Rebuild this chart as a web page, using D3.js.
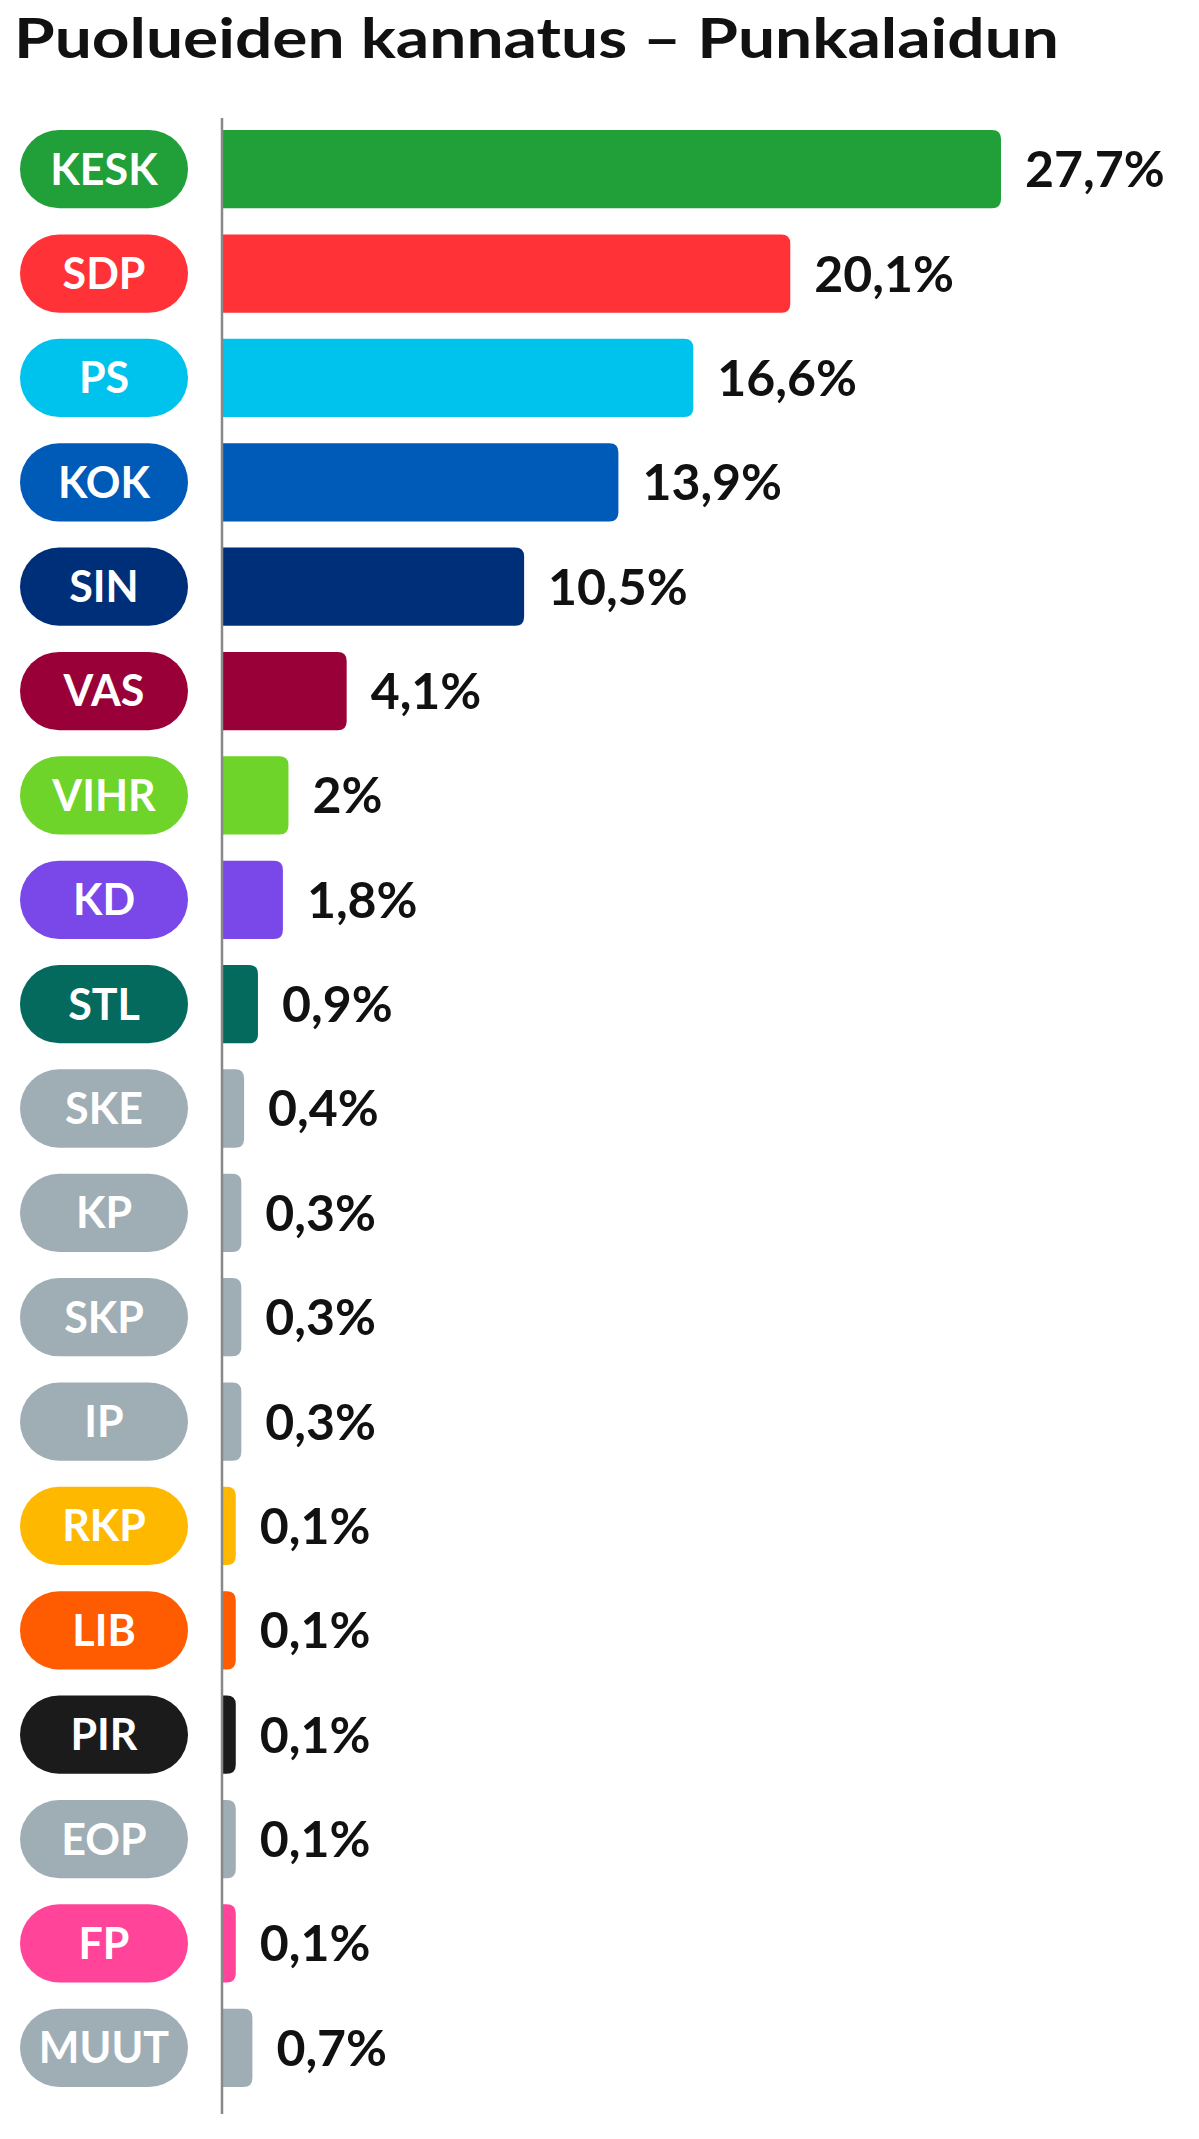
<!DOCTYPE html>
<html><head><meta charset="utf-8">
<script src="https://cdn.jsdelivr.net/npm/d3@7"></script>
<style>body{margin:0;background:#fff}</style></head>
<body><svg id="c" width="1199" height="2139"></svg>
<script>
const parties = ["KESK","SDP","PS","KOK","SIN","VAS","VIHR","KD","STL","SKE","KP","SKP","IP","RKP","LIB","PIR","EOP","FP","MUUT"];
const values = [27.7,20.1,16.6,13.9,10.5,4.1,2,1.8,0.9,0.4,0.3,0.3,0.3,0.1,0.1,0.1,0.1,0.1,0.7];
const colors = ["#21a03a","#ff3337","#00c3ed","#005ab7","#002f7a","#990038","#6ed42a","#7a48e8","#056a5e","#9fadb5","#9fadb5","#9fadb5","#9fadb5","#ffb800","#ff5b00","#1b1b1b","#9fadb5","#ff4499","#9fadb5"];
const labels = ["27,7%","20,1%","16,6%","13,9%","10,5%","4,1%","2%","1,8%","0,9%","0,4%","0,3%","0,3%","0,3%","0,1%","0,1%","0,1%","0,1%","0,1%","0,7%"];
const title = "Puolueiden kannatus – Punkalaidun";

const svg = d3.select("#c");
const font = "Lato, 'Open Sans', sans-serif";
svg.append("text").attr("x",14).attr("y",58).attr("font-family",font).attr("font-weight",700)
  .attr("font-size",56).attr("fill","#111").attr("textLength",1045).attr("lengthAdjust","spacingAndGlyphs").text(title);

const axisX = 222, minW = 11;
const y = d3.scaleBand().domain(parties).range([117, 2100]).paddingInner(0.25).paddingOuter(0.125);
const x = d3.scaleLinear().domain([0, 27.7]).range([0, 768]);
const g = svg.append("g");
const rows = g.selectAll("g").data(parties).join("g")
  .attr("transform", d => `translate(0,${y(d)})`);
const bw = y.bandwidth();
rows.append("path").attr("fill",(d,i)=>colors[i]).attr("d",(d,i)=>{
  const w = minW + x(values[i]); const r = Math.min(9, w);
  return `M${axisX},0 H${axisX+w-r} Q${axisX+w},0 ${axisX+w},${r} V${bw-r} Q${axisX+w},${bw} ${axisX+w-r},${bw} H${axisX} Z`;
});
rows.append("rect").attr("x",20).attr("width",168).attr("height",bw).attr("rx",bw/2)
  .attr("fill",(d,i)=>colors[i]);
rows.append("text").attr("x",104).attr("y",bw/2).attr("dy","0.36em").attr("text-anchor","middle")
  .attr("font-family",font).attr("font-weight",700).attr("font-size",43).attr("fill","#fff").text(d=>d);
rows.append("text").attr("x",(d,i)=>axisX+minW+x(values[i])+24).attr("y",bw/2).attr("dy","0.36em")
  .attr("font-family",font).attr("font-weight",700).attr("font-size",50).attr("fill","#111").text((d,i)=>labels[i]);
svg.append("line").attr("x1",axisX).attr("x2",axisX).attr("y1",118).attr("y2",2114)
  .attr("stroke","#888").attr("stroke-width",2.5);
</script></body></html>
